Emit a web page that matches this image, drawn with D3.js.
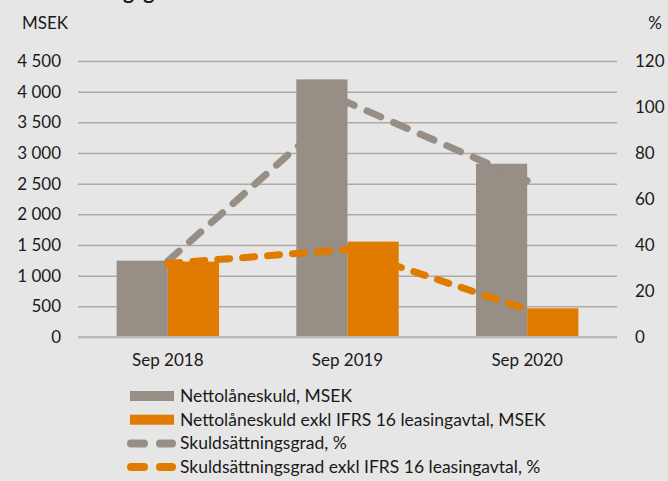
<!DOCTYPE html>
<html>
<head>
<meta charset="utf-8">
<script src="https://cdn.jsdelivr.net/npm/d3@7"></script>
<style>
  body { margin: 0; background: #e6e6e6; }
  svg { display: block; font-family: Lato, "Open Sans", sans-serif; }
</style>
</head>
<body>
<svg id="chart" width="668" height="481"></svg>
<script>
// Data
var categories = ["Sep 2018", "Sep 2019", "Sep 2020"];
var nettoSkuld = [1245, 4200, 2825];          // MSEK
var nettoSkuldExkl = [1230, 1555, 468];       // MSEK
var skuldGrad = [33, 102, 68];                // %
var skuldGradExkl = [32, 38, 12];             // %
var leftTicks = [0, 500, 1000, 1500, 2000, 2500, 3000, 3500, 4000, 4500];
var rightTicks = [0, 20, 40, 60, 80, 100, 120];
var legendLabels = [
    "Nettolåneskuld, MSEK",
    "Nettolåneskuld exkl IFRS 16 leasingavtal, MSEK",
    "Skuldsättningsgrad, %",
    "Skuldsättningsgrad exkl IFRS 16 leasingavtal, %"
];

var gray = "#978f86",
    orange = "#e07b00",
    grid = "#b1aaa4",
    ink = "#1a1a1a";

// plot area (note: "top" is reserved on window, so use other names)
var pLeft = 78, pRight = 617, pTop = 61, pBottom = 337;
var fs = 17;

var svg = d3.select("#chart");
svg.append("rect").attr("width", 668).attr("height", 481).attr("fill", "#e6e6e6");

// Title, mostly cut off at the top edge
svg.append("text")
    .text("Skuldsättningsgrad")
    .attr("x", 8)
    .attr("y", -1)
    .attr("font-size", 21)
    .attr("font-weight", "bold")
    .attr("fill", ink);

var fmt = d3.formatLocale({ decimal: ",", thousands: " ", grouping: [3], currency: ["", ""] }).format(",d");

var x = d3.scalePoint().domain(categories).range([pLeft, pRight]).padding(0.5);
var barW = x.step() * 0.285;

var yL = d3.scaleLinear().domain([0, 4500]).range([pBottom, pTop]);
var yR = d3.scaleLinear().domain([0, 120]).range([pBottom, pTop]);

// Gridlines + left axis labels
var gl = svg.append("g")
    .attr("transform", "translate(" + pLeft + ",0)")
    .call(d3.axisLeft(yL).tickValues(leftTicks).tickFormat(fmt).tickSize(-(pRight - pLeft)).tickPadding(17));
gl.select(".domain").remove();
gl.selectAll("line").attr("stroke", grid).attr("stroke-width", 1.5);
gl.selectAll("text").attr("font-size", fs).attr("fill", ink).attr("font-family", "Lato");

// Right axis labels
var gr = svg.append("g")
    .attr("transform", "translate(" + pRight + ",0)")
    .call(d3.axisRight(yR).tickValues(rightTicks).tickSize(0).tickPadding(18));
gr.select(".domain").remove();
gr.selectAll("text").attr("font-size", fs).attr("fill", ink).attr("font-family", "Lato");

// Axis titles
svg.append("text").text("MSEK").attr("x", 22).attr("y", 29)
    .attr("font-size", fs).attr("fill", ink);
svg.append("text").text("%").attr("x", 662).attr("y", 29).attr("text-anchor", "end")
    .attr("font-size", fs).attr("fill", ink);

// Bars
svg.selectAll(".bar1")
    .data(nettoSkuld)
    .enter().append("rect")
    .attr("x", (d, i) => x(categories[i]) - barW)
    .attr("y", (d) => yL(d))
    .attr("width", barW)
    .attr("height", (d) => pBottom - yL(d))
    .attr("fill", gray);

svg.selectAll(".bar2")
    .data(nettoSkuldExkl)
    .enter().append("rect")
    .attr("x", (d, i) => x(categories[i]))
    .attr("y", (d) => yL(d))
    .attr("width", barW)
    .attr("height", (d) => pBottom - yL(d))
    .attr("fill", orange);

// Zero baseline
svg.append("line")
    .attr("x1", pLeft).attr("x2", pRight)
    .attr("y1", yL(0)).attr("y2", yL(0))
    .attr("stroke", "#bdb7b1").attr("stroke-width", 2);

// X labels
svg.selectAll(".xl")
    .data(categories)
    .enter().append("text")
    .text((d) => d)
    .attr("x", (d) => x(d))
    .attr("y", 366)
    .attr("text-anchor", "middle")
    .attr("font-size", fs)
    .attr("fill", ink);

// Dashed lines
var line = d3.line()
    .x((d, i) => x(categories[i]))
    .y((d) => yR(d));

svg.append("path")
    .datum(skuldGrad)
    .attr("d", line)
    .attr("fill", "none")
    .attr("stroke", gray)
    .attr("stroke-width", 7)
    .attr("stroke-linecap", "round")
    .attr("stroke-dasharray", "15 14");

svg.append("path")
    .datum(skuldGradExkl)
    .attr("d", line)
    .attr("fill", "none")
    .attr("stroke", orange)
    .attr("stroke-width", 7)
    .attr("stroke-linecap", "round")
    .attr("stroke-dasharray", "12 13");

// Legend
var lg = svg.append("g");
var rowY = (i) => 396 + i * 23.7;
var colors = [gray, orange, gray, orange];

legendLabels.forEach((label, i) => {
    if (i < 2) {
        lg.append("rect")
            .attr("x", 130).attr("y", rowY(i) - 5)
            .attr("width", 44).attr("height", 10)
            .attr("fill", colors[i]);
    } else {
        lg.append("line")
            .attr("x1", 131).attr("x2", 172)
            .attr("y1", rowY(i)).attr("y2", rowY(i))
            .attr("stroke", colors[i])
            .attr("stroke-width", 8)
            .attr("stroke-linecap", "round")
            .attr("stroke-dasharray", "13 16");
    }
    lg.append("text")
        .text(label)
        .attr("x", 180)
        .attr("y", rowY(i) + 6)
        .attr("font-size", 17.5)
        .attr("fill", ink);
});
</script>
</body>
</html>
